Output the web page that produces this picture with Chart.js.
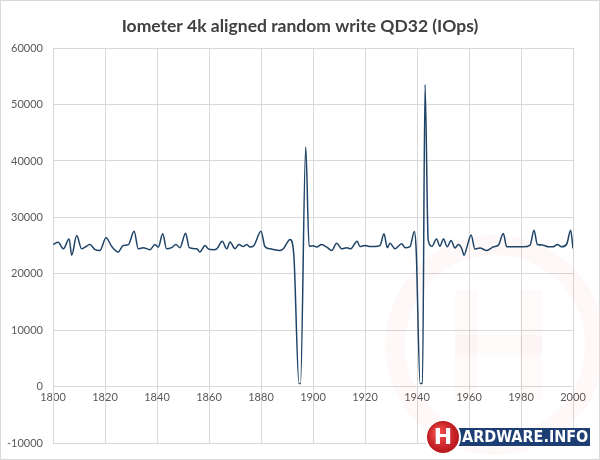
<!DOCTYPE html>
<html>
<head>
<meta charset="utf-8">
<script src="https://cdn.jsdelivr.net/npm/chart.js@4/dist/chart.umd.min.js"></script>
<style>
html,body{margin:0;padding:0;background:#fff;}
#wrap{width:600px;height:460px;position:relative;}
</style>
</head>
<body>
<div id="wrap"><canvas id="c" width="600" height="460"></canvas></div>
<script>
const chartTitle = 'Iometer 4k aligned random write QD32 (IOps)';
const xTicks = [1800, 1820, 1840, 1860, 1880, 1900, 1920, 1940, 1960, 1980, 2000];
const yTicks = [-10000, 0, 10000, 20000, 30000, 40000, 50000, 60000];

const xValues = [
  1800, 1802, 1804, 1806.2, 1807.2, 1809.1, 1811, 1812.3, 1814.2, 1816.2,
  1818, 1820.4, 1822.6, 1825.1, 1827, 1829, 1831.2, 1832.8, 1834.7, 1837.3,
  1839.2, 1840.5, 1842.2, 1843.7, 1845.6, 1847.3, 1848.8, 1851, 1852.4, 1855.3,
  1856.5, 1858.5, 1859.7, 1861.7, 1863, 1865.1, 1866.8, 1868.1, 1870, 1871.5,
  1873.2, 1874.5, 1875.8, 1877.3, 1880, 1881.5, 1883.5, 1887.3, 1888.6, 1891.2,
  1892.6, 1894.6, 1895.2, 1897.2, 1898.5, 1900, 1901.4, 1903.3, 1905.3, 1907.2,
  1909.1, 1911, 1913, 1914.5, 1917, 1918, 1920, 1922, 1923.8, 1925.8,
  1927.3, 1928.6, 1929.6, 1931.5, 1934.1, 1935.4, 1937.3, 1939, 1939.7, 1941.2,
  1942.1, 1943.1, 1944.3, 1945.8, 1947.5, 1948.8, 1950.2, 1951.6, 1953.1, 1954.6,
  1955.9, 1957.2, 1958.1, 1959.4, 1960.8, 1962.3, 1964.2, 1966.8, 1969.4, 1971.3,
  1973.2, 1974.5, 1977.1, 1980.9, 1983.5, 1985, 1986.3, 1988.6, 1990.5, 1992.4,
  1994, 1995.6, 1997.6, 1999.1, 2000
];
const iopsValues = [
  25200, 25600, 24450, 26200, 23300, 26800, 24450, 24750, 25200, 24300,
  24150, 26400, 24850, 23900, 25050, 25200, 27550, 24450, 24650, 24300,
  25200, 24750, 27100, 24450, 24650, 25200, 24650, 27200, 24650, 24450,
  23900, 25050, 24450, 24300, 24450, 25800, 24450, 25650, 24450, 25200,
  24850, 25200, 24750, 25050, 27550, 24850, 24450, 24150, 24450, 26100,
  23500, 600, 600, 42500, 24900, 25000, 24750, 25200, 24750, 24150,
  25450, 24450, 24650, 24450, 25800, 24850, 25050, 24850, 24850, 25050,
  27100, 24650, 25450, 24450, 25350, 24650, 24850, 27500, 24000, 600,
  600, 53500, 26000, 24900, 26200, 24900, 26200, 24800, 25900, 24600,
  25200, 24500, 23300, 25100, 26900, 24400, 24600, 24150, 24800, 25100,
  27150, 24800, 24800, 24800, 25100, 27750, 25200, 25100, 24800, 24800,
  25200, 24800, 25300, 27750, 24500
];

const tickFont = {family: 'Lato', size: 11};
const tickColor = '#595959';
const gridColor = '#d9d9d9';

const decor = {
  id: 'decor',
  beforeDatasetsDraw(chart) {
    const ctx = chart.ctx;
    ctx.save();
    // faint background watermark
    ctx.strokeStyle = 'rgba(215,60,60,0.035)';
    ctx.lineWidth = 20;
    ctx.beginPath();
    ctx.arc(495, 345, 100, 0, Math.PI * 2);
    ctx.stroke();
    ctx.fillStyle = 'rgba(215,60,60,0.025)';
    ctx.fillRect(455, 290, 22, 110);
    ctx.fillRect(520, 290, 22, 110);
    ctx.fillRect(455, 335, 87, 20);
    ctx.restore();
  },
  afterDraw(chart) {
    const ctx = chart.ctx;
    ctx.save();
    // outer frame
    ctx.strokeStyle = '#d9d9d9';
    ctx.lineWidth = 1;
    ctx.strokeRect(0.5, 0.5, 599, 459);
    // logo
    ctx.fillStyle = '#1d3e73';
    ctx.fillRect(428, 428, 162, 18);
    ctx.fillStyle = '#ffffff';
    ctx.font = 'bold 16px "DejaVu Sans Condensed", "Liberation Sans Narrow", sans-serif';
    ctx.textBaseline = 'middle';
    ctx.textAlign = 'left';
    ctx.fillText('ARDWARE.INFO', 462, 437.5);
    const g = ctx.createRadialGradient(438, 432, 3, 443, 437, 18);
    g.addColorStop(0, '#f04a4a');
    g.addColorStop(1, '#b01015');
    ctx.beginPath();
    ctx.arc(443, 437, 17, 0, Math.PI * 2);
    ctx.fillStyle = g;
    ctx.fill();
    ctx.lineWidth = 2;
    ctx.strokeStyle = '#ffffff';
    ctx.stroke();
    ctx.fillStyle = '#ffffff';
    ctx.font = 'bold 22px "DejaVu Sans", sans-serif';
    ctx.textAlign = 'center';
    ctx.fillText('H', 443, 438);
    ctx.restore();
  }
};

new Chart(document.getElementById('c'), {
  type: 'line',
  data: {
    datasets: [{
      data: xValues.map((x, i) => ({x: x, y: iopsValues[i]})),
      borderColor: '#1f4468',
      borderWidth: 1.5,
      pointRadius: 0,
      fill: false,
      cubicInterpolationMode: 'monotone'
    }]
  },
  options: {
    responsive: false,
    animation: false,
    devicePixelRatio: 1,
    layout: {padding: {left: 0, right: 0, top: 0, bottom: 13}},
    plugins: {
      legend: {display: false},
      tooltip: {enabled: false},
      title: {
        display: true,
        text: chartTitle,
        color: '#404040',
        font: {family: 'Lato', size: 17.5, weight: 'bold'},
        padding: {top: 16, bottom: 11}
      }
    },
    scales: {
      x: {
        type: 'linear',
        position: {y: 0},
        min: 1800,
        max: 2000,
        afterBuildTicks(s) { s.ticks = xTicks.map(v => ({value: v})); },
        ticks: {color: tickColor, font: tickFont, padding: 4, maxRotation: 0, callback: v => String(v)},
        grid: {color: gridColor, drawTicks: false},
        border: {color: gridColor}
      },
      y: {
        min: -10000,
        max: 60000,
        afterBuildTicks(s) { s.ticks = yTicks.map(v => ({value: v})); },
        ticks: {color: tickColor, font: tickFont, padding: 10, callback: v => String(v)},
        grid: {color: gridColor, drawTicks: false},
        border: {color: gridColor},
        afterFit(s) { s.width = 53; }
      },
      yRight: {
        position: 'right',
        display: true,
        min: -10000,
        max: 60000,
        ticks: {display: false},
        grid: {display: false, drawTicks: false},
        border: {display: false},
        afterFit(s) { s.width = 27; s.paddingTop = 0; s.paddingBottom = 0; }
      }
    }
  },
  plugins: [decor]
});
</script>
</body>
</html>
